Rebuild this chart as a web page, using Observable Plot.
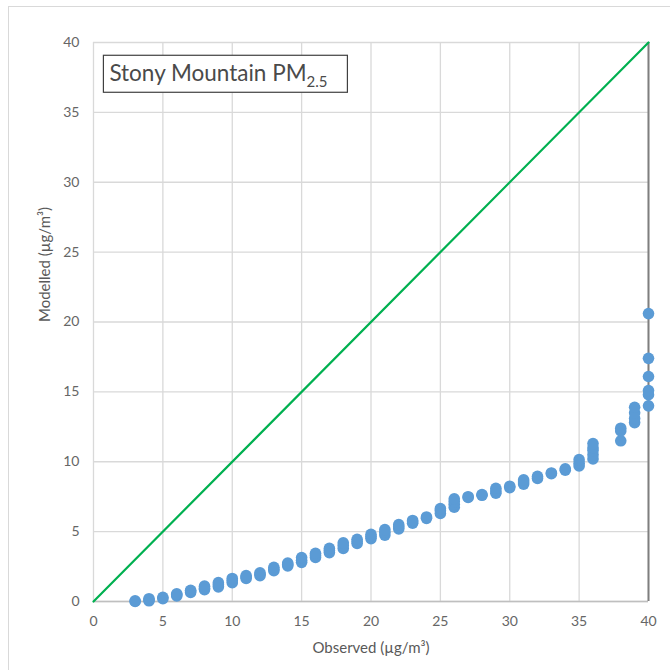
<!DOCTYPE html>
<html>
<head>
<meta charset="utf-8">
<script src="https://cdn.jsdelivr.net/npm/d3@7"></script>
<script src="https://cdn.jsdelivr.net/npm/@observablehq/plot@0.6"></script>
<style>
  html, body { margin: 0; padding: 0; background: #fff; }
  #frame { position: absolute; left: 8px; top: 6px; width: 700px; height: 700px; border: 1px solid #d9d9d9; box-sizing: border-box; }
  #chart { position: absolute; left: 0; top: 0; }
</style>
</head>
<body>
<div id="frame"></div>
<div id="chart"></div>
<script>
// Stony Mountain PM2.5: modelled vs observed concentrations (µg/m³)
const observed = [
  3, 3,
  4, 4, 4,
  5, 5,
  6, 6, 6,
  7, 7, 7,
  8, 8, 8,
  9, 9, 9,
  10, 10, 10,
  11, 11, 11,
  12, 12, 12,
  13, 13, 13,
  14, 14, 14,
  15, 15, 15,
  16, 16, 16,
  17, 17, 17,
  18, 18, 18,
  19, 19, 19,
  20, 20, 20,
  21, 21, 21,
  22, 22, 22,
  23, 23, 23,
  24, 24,
  25, 25, 25,
  26, 26, 26, 26,
  27, 27,
  28, 28,
  29, 29, 29,
  30, 30,
  31, 31, 31,
  32, 32,
  33, 33,
  34, 34,
  35, 35, 35,
  36, 36, 36, 36, 36,
  38, 38, 38,
  39, 39, 39, 39,
  40, 40, 40, 40, 40, 40
];
const modelled = [
  0.0, 0.05,
  0.05, 0.12, 0.2,
  0.2, 0.3,
  0.4, 0.5, 0.55,
  0.65, 0.75, 0.8,
  0.85, 0.95, 1.1,
  1.05, 1.2, 1.35,
  1.35, 1.5, 1.65,
  1.65, 1.75, 1.85,
  1.85, 1.95, 2.05,
  2.2, 2.3, 2.45,
  2.55, 2.65, 2.75,
  2.8, 2.95, 3.15,
  3.15, 3.3, 3.45,
  3.5, 3.65, 3.8,
  3.8, 4.0, 4.2,
  4.15, 4.3, 4.45,
  4.5, 4.65, 4.8,
  4.75, 4.95, 5.15,
  5.2, 5.35, 5.5,
  5.6, 5.7, 5.8,
  5.95, 6.05,
  6.3, 6.5, 6.65,
  6.75, 6.95, 7.15, 7.35,
  7.45, 7.5,
  7.6, 7.65,
  7.75, 7.9, 8.1,
  8.15, 8.25,
  8.4, 8.55, 8.7,
  8.8, 8.95,
  9.15, 9.2,
  9.4, 9.5,
  9.7, 9.9, 10.15,
  10.2, 10.5, 10.8, 11.0, 11.3,
  11.5, 12.2, 12.4,
  12.8, 13.1, 13.5, 13.9,
  14.0, 14.8, 15.1, 16.1, 17.4, 20.6
];
const axisTicks = [0, 5, 10, 15, 20, 25, 30, 35, 40];
const oneToOne = [0, 40];
const titleText = "Stony Mountain PM";
const titleSub = "2.5";
const xLabel = "Observed (µg/m³)";
const yLabel = "Modelled (µg/m³)";

const points = observed.map((o, i) => ({observed: o, modelled: modelled[i]}));
const line = oneToOne.map(v => ({observed: v, modelled: v}));

const font = "Lato, 'Open Sans', sans-serif";

const chart = Plot.plot({
  width: 670,
  height: 670,
  marginLeft: 93,
  marginRight: 22,
  marginTop: 42,
  marginBottom: 69,
  style: {fontFamily: font, fontSize: "14px", color: "#595959", background: "transparent"},
  x: {domain: [0, 40], ticks: axisTicks, label: null},
  y: {domain: [0, 40], ticks: axisTicks, label: null},
  marks: [
    Plot.gridX(axisTicks, {stroke: "#d9d9d9", strokeOpacity: 1, strokeWidth: 1.3}),
    Plot.gridY(axisTicks, {stroke: "#d9d9d9", strokeOpacity: 1, strokeWidth: 1.3}),
    Plot.ruleY([0], {stroke: "#bfbfbf", strokeWidth: 1.5}),
    Plot.ruleX([40], {stroke: "#7f7f7f", strokeWidth: 2}),
    Plot.line(line, {x: "observed", y: "modelled", stroke: "#00b050", strokeWidth: 2.2}),
    Plot.dot(points, {x: "observed", y: "modelled", r: 5.8, fill: "#5b9bd5", stroke: "none"}),
    Plot.axisX({ticks: axisTicks, tickSize: 0, tickPadding: 15, fill: "#666", fontSize: 14}),
    Plot.axisY({ticks: axisTicks, tickSize: 0, tickPadding: 14, fill: "#666", fontSize: 14}),
    Plot.text([xLabel], {frameAnchor: "bottom", dy: 51, fill: "#595959", fontSize: 15}),
    Plot.text([yLabel], {frameAnchor: "left", dx: -48, rotate: -90, fill: "#595959", fontSize: 15})
  ]
});

// Title box in the upper-left corner of the plot area
const svg = d3.select(chart);
const sx = chart.scale("x"), sy = chart.scale("y");
const bx = sx.apply(0.75), by = sy.apply(39.05);
const g = svg.append("g");
g.append("rect")
  .attr("x", bx).attr("y", by)
  .attr("width", 244).attr("height", 37)
  .attr("fill", "#fff").attr("stroke", "#404040").attr("stroke-width", 1.2);
const t = g.append("text")
  .attr("x", bx + 6).attr("y", by + 26)
  .attr("text-anchor", "start")
  .attr("font-family", font).attr("font-size", 22.5).attr("fill", "#4a4a4a")
  .text(titleText);
t.append("tspan").attr("dy", 6).attr("font-size", 15).text(titleSub);

document.getElementById("chart").appendChild(chart);
</script>
</body>
</html>
